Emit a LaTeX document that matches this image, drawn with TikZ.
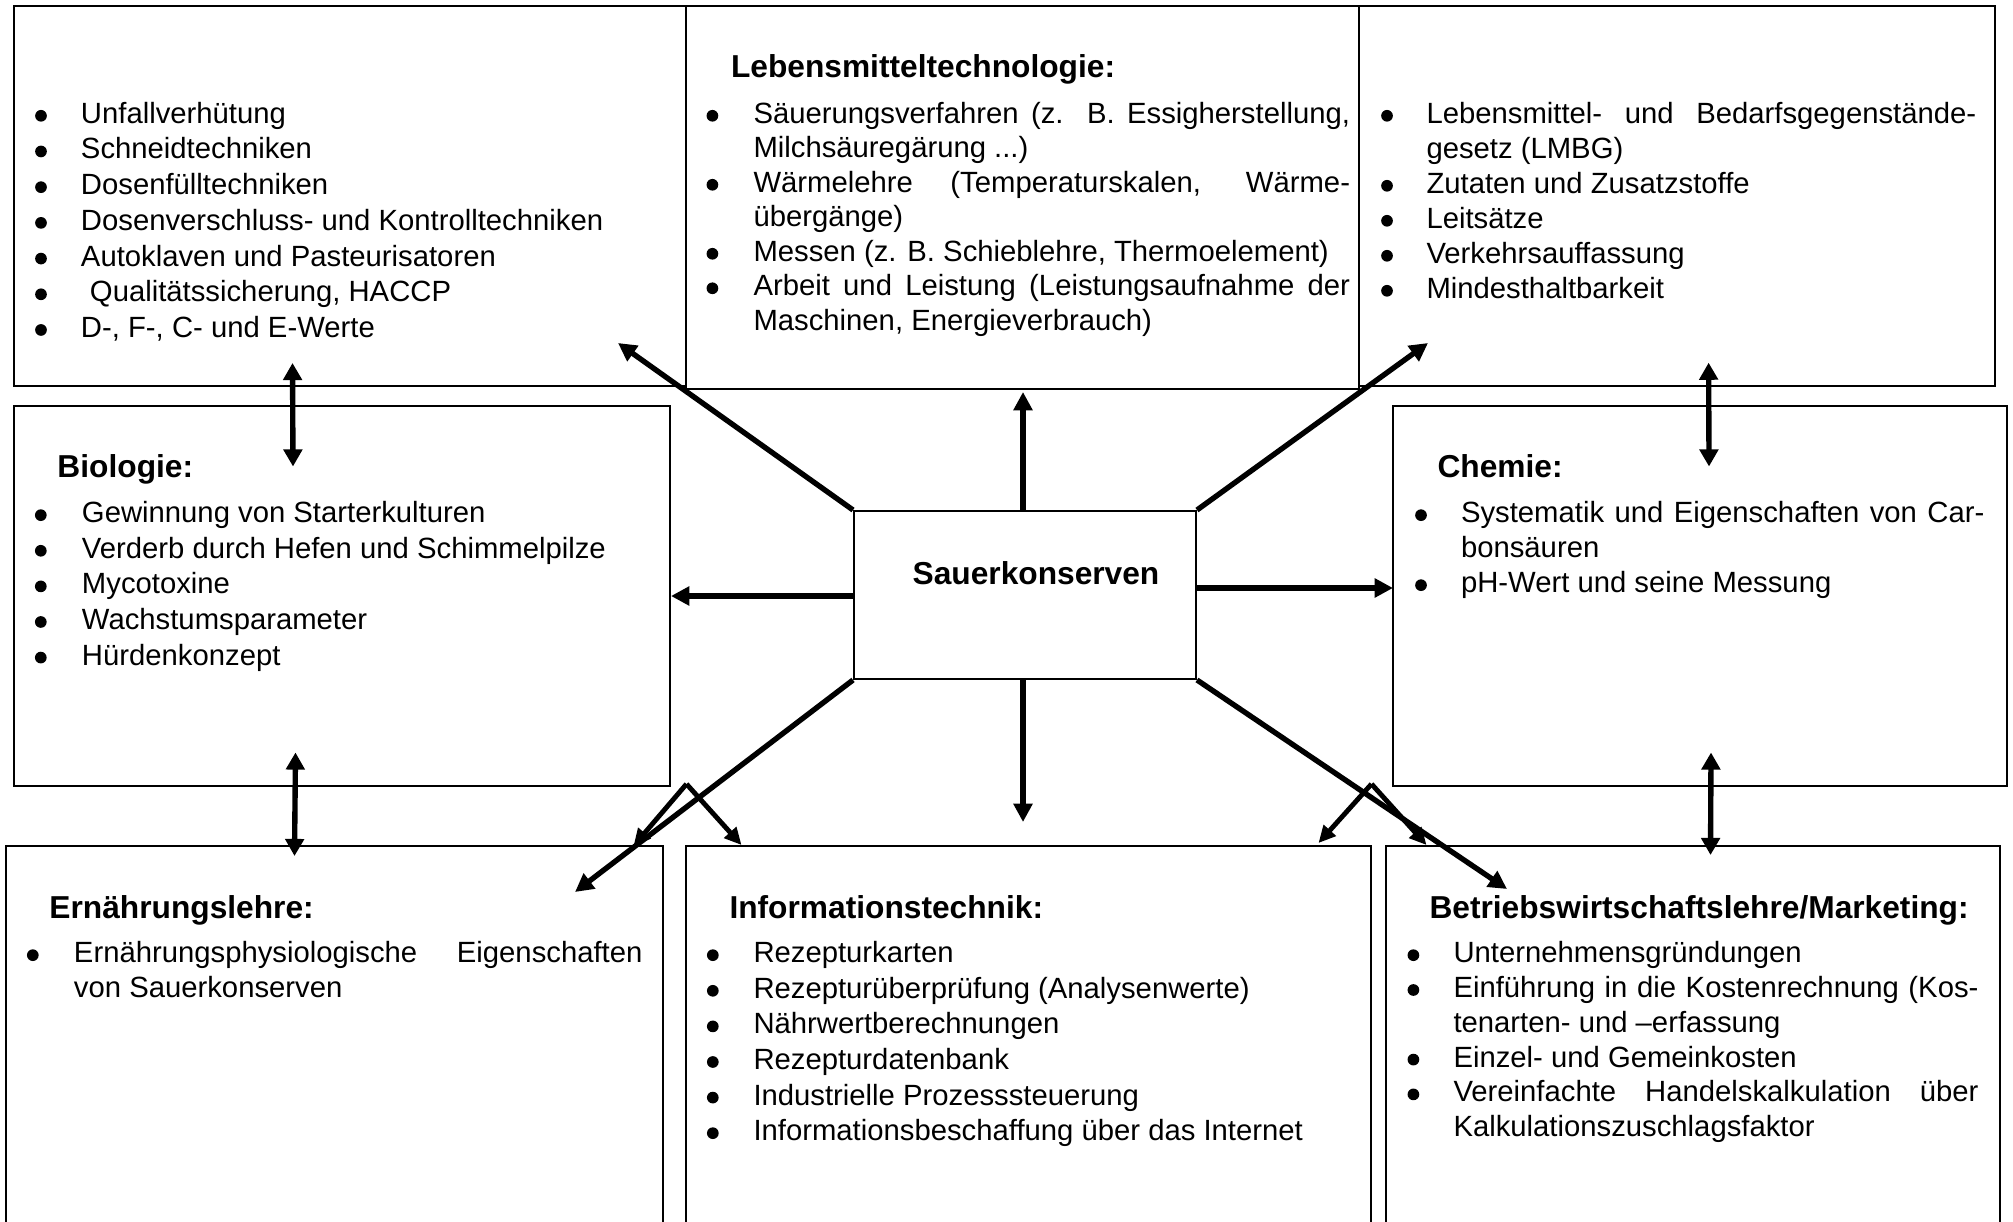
\documentclass[tikz,border=0pt]{standalone}
\usepackage{fontspec}
\setmainfont{Liberation Sans}
\usetikzlibrary{arrows.meta,fit}
% a line of text stretched to a given width (justified line)
\newcommand{\justline}[2]{\makebox[#1][s]{#2}}

\begin{document}
\begin{tikzpicture}[x=0.41pt,y=-0.41pt,
  box/.style={draw, line width=0.8pt, inner sep=0pt},
  body/.style={anchor=base west, inner sep=0pt, font=\fontsize{12pt}{14pt}\selectfont},
  head/.style={anchor=base west, inner sep=0pt, font=\fontsize{13pt}{15pt}\selectfont\bfseries},
  dot/.style={circle, fill, inner sep=0pt, minimum size=4.8pt, yshift=0.5pt},
  link/.style={line width=2.2pt, -{Triangle[length=7.5pt,width=7.5pt]}},
  twoway/.style={line width=2.2pt, {Triangle[length=7pt,width=7.5pt]}-{Triangle[length=7pt,width=7.5pt]}},
  fork/.style={line width=2pt, -{Triangle[length=7pt,width=6.5pt]}},
]
\fill[white] (0,0) rectangle (2013,1222);
\clip (0,0) rectangle (2013,1222);

% ---------- boxes ----------
\node[box, fit={(14,6) (686,386)}] (tl) {};
\node[box, fit={(686,6) (1359,389)}] (tc) {};
\node[box, fit={(1359,6) (1995,386)}] (tr) {};
\node[box, fit={(14,406) (670,786)}] (bio) {};
\node[box, fit={(854,511) (1196,679)}] (c) {};
\node[box, fit={(1393,406) (2007,786)}] (chem) {};
\node[box, fit={(6,846) (663,1240)}] (ern) {};
\node[box, fit={(686,846) (1371,1240)}] (inf) {};
\node[box, fit={(1386,846) (2000,1240)}] (bwl) {};

% ---------- centre ----------
\node[anchor=base, inner sep=0pt, font=\fontsize{13pt}{15pt}\selectfont\bfseries] (ctext) at (1036,584) {Sauerkonserven};

% ---------- top left ----------
\node[dot] (tlb1) at (41,117) {};  \node[body] (tl1) at (80.5,123.3) {Unfallverhütung};
\node[dot] (tlb2) at (41,152.7) {};    \node[body] (tl2) at (80.5,159) {Schneidtechniken};
\node[dot] (tlb3) at (41,188.4) {};  \node[body] (tl3) at (80.5,194.7) {Dosenfülltechniken};
\node[dot] (tlb4) at (41,224.1) {};  \node[body] (tl4) at (80.5,230.4) {Dosenverschluss- und Kontrolltechniken};
\node[dot] (tlb5) at (41,259.8) {};  \node[body] (tl5) at (80.5,266.1) {Autoklaven und Pasteurisatoren};
\node[dot] (tlb6) at (41,295.5) {};  \node[body] (tl6) at (89.5,301.8) {Qualitätssicherung, HACCP};
\node[dot] (tlb7) at (41,331.2) {};  \node[body] (tl7) at (80.5,337.5) {D-, F-, C- und E-Werte};

% ---------- Lebensmitteltechnologie ----------
\node[head] (tch) at (730.5,77.3) {Lebensmitteltechnologie:};
\node[dot] (tcb1) at (712.4,117) {}; \node[body] (tc1) at (753,123.3) {\justline{244.6pt}{Säuerungsverfahren (z. B. Essigherstellung,}};
\node[body] (tc2) at (753,157.8) {Milchsäuregärung ...)};
\node[dot] (tcb3) at (712.4,186) {}; \node[body] (tc3) at (753,192.3) {\justline{244.6pt}{Wärmelehre (Temperaturskalen, Wärme-}};
\node[body] (tc4) at (753,226.8) {übergänge)};
\node[dot] (tcb5) at (712.4,255) {}; \node[body] (tc5) at (753,261.3) {Messen (z. B. Schieblehre, Thermoelement)};
\node[dot] (tcb6) at (712.4,289.5) {}; \node[body] (tc6) at (753,295.8) {\justline{244.6pt}{Arbeit und Leistung (Leistungsaufnahme der}};
\node[body] (tc7) at (753,330.3) {Maschinen, Energieverbrauch)};

% ---------- top right ----------
\node[dot] (trb1) at (1387,117) {}; \node[body] (tr1) at (1426,123.3) {\justline{225.4pt}{Lebensmittel- und Bedarfsgegenstände-}};
\node[body] (tr2) at (1426,158.3) {gesetz (LMBG)};
\node[dot] (trb3) at (1387,187) {}; \node[body] (tr3) at (1426,193.3) {Zutaten und Zusatzstoffe};
\node[dot] (trb4) at (1387,222) {}; \node[body] (tr4) at (1426,228.3) {Leitsätze};
\node[dot] (trb5) at (1387,257) {}; \node[body] (tr5) at (1426,263.3) {Verkehrsauffassung};
\node[dot] (trb6) at (1387,292) {}; \node[body] (tr6) at (1426,298.3) {Mindesthaltbarkeit};

% ---------- Biologie ----------
\node[head] (bioh) at (57,477.3) {Biologie:};
\node[dot] (biob1) at (40.8,516.4) {}; \node[body] (bio1) at (81.5,522.7) {Gewinnung von Starterkulturen};
\node[dot] (biob2) at (40.8,552) {}; \node[body] (bio2) at (81.5,558.3) {Verderb durch Hefen und Schimmelpilze};
\node[dot] (biob3) at (40.8,587.6) {}; \node[body] (bio3) at (81.5,593.9) {Mycotoxine};
\node[dot] (biob4) at (40.8,623.2) {}; \node[body] (bio4) at (81.5,629.5) {Wachstumsparameter};
\node[dot] (biob5) at (40.8,658.8) {}; \node[body] (bio5) at (81.5,665.1) {Hürdenkonzept};

% ---------- Chemie ----------
\node[head] (chemh) at (1437,477.3) {Chemie:};
\node[dot] (chemb1) at (1421,516.4) {}; \node[body] (chem1) at (1460.5,522.7) {\justline{214.6pt}{Systematik und Eigenschaften von Car-}};
\node[body] (chem2) at (1460.5,557.5) {bonsäuren};
\node[dot] (chemb3) at (1421,586.4) {}; \node[body] (chem3) at (1460.5,592.7) {pH-Wert und seine Messung};

% ---------- Ernährungslehre ----------
\node[head] (ernh) at (49,918.3) {Ernährungslehre:};
\node[dot] (ernb1) at (32.8,956.4) {}; \node[body] (ern1) at (73.5,962.7) {\justline{233.1pt}{Ernährungsphysiologische Eigenschaften}};
\node[body] (ern2) at (73.5,997.5) {von Sauerkonserven};

% ---------- Informationstechnik ----------
\node[head] (infh) at (729,918.3) {Informationstechnik:};
\node[dot] (infb1) at (712.8,956.4) {};  \node[body] (inf1) at (753,962.7) {Rezepturkarten};
\node[dot] (infb2) at (712.8,992) {};  \node[body] (inf2) at (753,998.3) {Rezepturüberprüfung (Analysenwerte)};
\node[dot] (infb3) at (712.8,1027.6) {}; \node[body] (inf3) at (753,1033.9) {Nährwertberechnungen};
\node[dot] (infb4) at (712.8,1063.2) {}; \node[body] (inf4) at (753,1069.5) {Rezepturdatenbank};
\node[dot] (infb5) at (712.8,1098.8) {}; \node[body] (inf5) at (753,1105.1) {Industrielle Prozesssteuerung};
\node[dot] (infb6) at (712.8,1134.4) {}; \node[body] (inf6) at (753,1140.7) {Informationsbeschaffung über das Internet};

% ---------- Betriebswirtschaftslehre/Marketing ----------
\node[head] (bwlh) at (1429,918.3) {Betriebswirtschaftslehre/Marketing:};
\node[dot] (bwlb1) at (1413.4,956.4) {};  \node[body] (bwl1) at (1453,962.7) {Unternehmensgründungen};
\node[dot] (bwlb2) at (1413.4,991.2) {};  \node[body] (bwl2) at (1453,997.5) {\justline{215.25pt}{Einführung in die Kostenrechnung (Kos-}};
\node[body] (bwl3) at (1453,1032.3) {tenarten- und –erfassung};
\node[dot] (bwlb4) at (1413.4,1060.8) {}; \node[body] (bwl4) at (1453,1067.1) {Einzel- und Gemeinkosten};
\node[dot] (bwlb5) at (1413.4,1095.6) {}; \node[body] (bwl5) at (1453,1101.9) {\justline{215.25pt}{Vereinfachte Handelskalkulation über}};
\node[body] (bwl6) at (1453,1136.7) {Kalkulationszuschlagsfaktor};

% ---------- arrow end points ----------
\coordinate (tlTip) at (618,343);
\coordinate (tcTip) at (1023,392);
\coordinate (trTip) at (1428,343);
\coordinate (bioTip) at (671,596);
\coordinate (chemTip) at (1393,588);
\coordinate (infTip) at (1023,822);
\coordinate (ernTip) at (575,892);
\coordinate (bwlTip) at (1507,889);

\coordinate (tlBioA) at (292.5,363);   \coordinate (tlBioB) at (293,466.5);
\coordinate (bioErnA) at (295.5,752.5); \coordinate (bioErnB) at (294.5,856);
\coordinate (trChA) at (1708.6,362.7); \coordinate (trChB) at (1709,466.5);
\coordinate (chBwlA) at (1711,752.5);  \coordinate (chBwlB) at (1710.5,855);

\coordinate (forkL) at (686.5,784); \coordinate (forkLa) at (633.5,846); \coordinate (forkLb) at (741.5,845);
\coordinate (forkR) at (1371.5,784); \coordinate (forkRa) at (1318.5,843); \coordinate (forkRb) at (1426.5,845);

% ---------- arrows from the centre ----------
\draw[link] (c.north west) -- (tlTip);
\draw[link] (c.north -| tcTip) -- (tcTip);
\draw[link] (c.north east) -- (trTip);
\draw[link] (c.west |- bioTip) -- (bioTip);
\draw[link] (c.east |- chemTip) -- (chemTip);
\draw[link] (c.south -| infTip) -- (infTip);
\draw[link] (c.south west) -- (ernTip);
\draw[link] (c.south east) -- (bwlTip);

% ---------- links between neighbouring boxes ----------
\draw[twoway] (tlBioA) -- (tlBioB);
\draw[twoway] (bioErnA) -- (bioErnB);
\draw[twoway] (trChA) -- (trChB);
\draw[twoway] (chBwlA) -- (chBwlB);

\draw[fork] (forkL) -- (forkLa);
\draw[fork] (forkL) -- (forkLb);
\draw[fork] (forkR) -- (forkRa);
\draw[fork] (forkR) -- (forkRb);
\end{tikzpicture}
\end{document}
